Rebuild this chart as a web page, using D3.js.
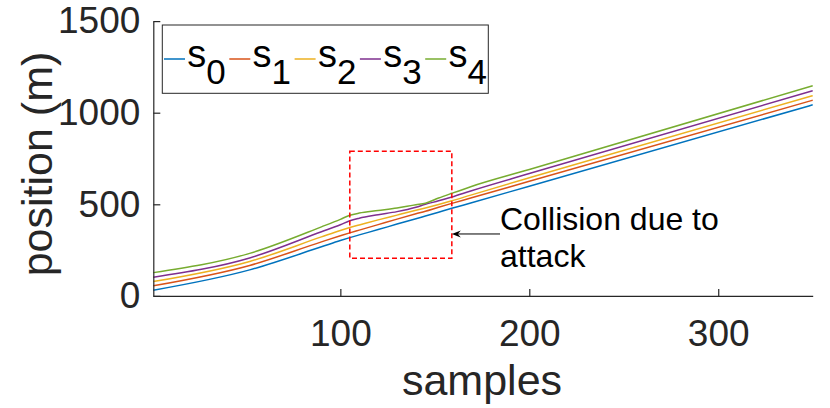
<!DOCTYPE html>
<html>
<head>
<meta charset="utf-8">
<script src="https://cdn.jsdelivr.net/npm/d3@7"></script>
<style>
  body { margin: 0; background: #fff; }
  svg { display: block; font-family: "Liberation Sans", Arial, sans-serif; }
</style>
</head>
<body>
<div id="chart"></div>
<script>
// sample index and vehicle positions (m)
const samples = [1, 52, 90, 100, 105, 110, 120, 130, 140, 145, 152, 159, 169, 200, 350];
const s0 = [31, 142, 268, 302, 318, 333, 362, 392, 421, 436, 457, 478, 507, 599, 1043];
const s1 = [55, 166, 295, 328, 344, 359, 389, 419, 448, 462, 484, 505, 534, 626, 1068];
const s2 = [78, 188, 322, 357, 373, 387, 415, 441, 467, 480, 499, 519, 550, 645, 1093];
const s3 = [102, 207, 350, 388, 410, 424, 443, 460, 484, 500, 519, 540, 573, 668, 1120];
const s4 = [127, 232, 377, 418, 440, 452, 466, 480, 498, 506, 534, 560, 596, 690, 1147];

const xTicks = [100, 200, 300];
const yTicks = [0, 500, 1000, 1500];
const legendSubs = ["0", "1", "2", "3", "4"];
const colors = ["#0072BD", "#D95319", "#EDB120", "#7E2F8E", "#77AC30"];

// annotation (data coords)
const boxX = [105, 159];
const boxY = [205, 790];
const arrowFrom = [184.5, 338];
const arrowTo = [159, 338];
const note = ["Collision due to", "attack"];

const W = 830, H = 408;
const axisCol = "#262626";

const svg = d3.select("#chart").append("svg")
  .attr("width", W)
  .attr("height", H);

const x = d3.scaleLinear().domain([1, 350]).range([153.3, 812.7]);
const y = d3.scaleLinear().domain([0, 1500]).range([295.9, 21.1]);

// lines
const series = [s0, s1, s2, s3, s4];
const line = d3.line()
  .x(d => x(d[0]))
  .y(d => y(d[1]))
  .curve(d3.curveMonotoneX);

svg.append("g")
  .selectAll("path")
  .data(series)
  .join("path")
  .attr("d", vals => line(samples.map((s, i) => [s, vals[i]])))
  .attr("fill", "none")
  .attr("stroke", (d, i) => colors[i])
  .attr("stroke-width", 1.5);

// axes
const xAxis = d3.axisBottom(x).tickValues(xTicks).tickSize(-7).tickSizeOuter(0).tickPadding(24);
const yAxis = d3.axisLeft(y).tickValues(yTicks).tickFormat(d3.format("d"))
  .tickSize(-7).tickSizeOuter(0).tickPadding(13);

const gx = svg.append("g")
  .attr("transform", `translate(0,${y(0)})`)
  .call(xAxis);
const gy = svg.append("g")
  .attr("transform", `translate(${x(1)},0)`)
  .call(yAxis);

[gx, gy].forEach(g => {
  g.selectAll("path, line").attr("stroke", axisCol).attr("stroke-width", 1.2);
  g.selectAll("text")
    .attr("fill", axisCol)
    .style("font-size", "37px")
    .style("font-family", '"Liberation Sans", Arial, sans-serif');
});

svg.append("text")
  .attr("x", 482)
  .attr("y", 395)
  .attr("text-anchor", "middle")
  .attr("fill", axisCol)
  .style("font-size", "43px")
  .text("samples");

svg.append("text")
  .attr("transform", "translate(52,164) rotate(-90)")
  .attr("text-anchor", "middle")
  .attr("fill", axisCol)
  .style("font-size", "43px")
  .text("position (m)");

// dashed box
svg.append("rect")
  .attr("x", x(boxX[0]))
  .attr("y", y(boxY[1]))
  .attr("width", x(boxX[1]) - x(boxX[0]))
  .attr("height", y(boxY[0]) - y(boxY[1]))
  .attr("fill", "none")
  .attr("stroke", "#FF0000")
  .attr("stroke-width", 1.5)
  .attr("stroke-dasharray", "5,3");

// arrow
const ax0 = x(arrowFrom[0]), ay0 = y(arrowFrom[1]);
const ax1 = x(arrowTo[0]), ay1 = y(arrowTo[1]);
svg.append("line")
  .attr("x1", ax0).attr("y1", ay0)
  .attr("x2", ax1 + 6).attr("y2", ay1)
  .attr("stroke", "#000")
  .attr("stroke-width", 1);
svg.append("path")
  .attr("d", `M${ax1},${ay1} L${ax1 + 9},${ay1 - 3.5} L${ax1 + 6},${ay1} L${ax1 + 9},${ay1 + 3.5} Z`)
  .attr("fill", "#000");

svg.append("text")
  .attr("x", ax0)
  .attr("y", ay0 - 4)
  .attr("fill", "#000")
  .style("font-size", "32px")
  .selectAll("tspan")
  .data(note)
  .join("tspan")
  .attr("x", ax0)
  .attr("dy", (d, i) => i === 0 ? 0 : 36.7)
  .text(d => d);

// legend
const lg = svg.append("g");
lg.append("rect")
  .attr("x", 162.3).attr("y", 25)
  .attr("width", 326).attr("height", 68.3)
  .attr("fill", "#fff")
  .attr("stroke", axisCol)
  .attr("stroke-width", 1);

const items = lg.selectAll("g.item")
  .data(legendSubs)
  .join("g")
  .attr("class", "item")
  .attr("transform", (d, i) => `translate(${164 + i * 65.3},0)`);

items.append("line")
  .attr("x1", 0).attr("x2", 21)
  .attr("y1", 59).attr("y2", 59)
  .attr("stroke", (d, i) => colors[i])
  .attr("stroke-width", 1.5);

const lt = items.append("text")
  .attr("x", 23.3)
  .attr("y", 66.7)
  .attr("fill", "#000");
lt.append("tspan").style("font-size", "38px").text("s");
lt.append("tspan").style("font-size", "35px").attr("dy", 17.3).text(d => d);
</script>
</body>
</html>
